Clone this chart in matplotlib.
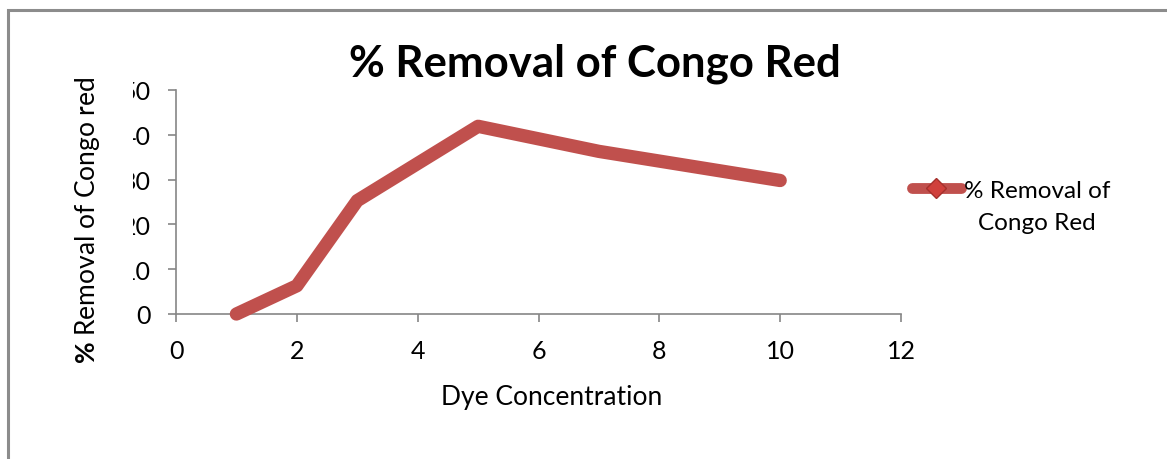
import matplotlib
matplotlib.use("Agg")
import matplotlib.pyplot as plt
from matplotlib.lines import Line2D
from matplotlib.patches import Rectangle

plt.rcParams['font.family'] = ['Lato', 'DejaVu Sans']
plt.rcParams['mathtext.fontset'] = 'custom'
plt.rcParams['mathtext.rm'] = 'Lato'
plt.rcParams['mathtext.bf'] = 'Lato:bold'

# Dye concentration vs % removal of Congo red
dye_concentration = [1, 2, 3, 4, 5, 7, 10]
removal_pct = [0.0, 6.3, 25.3, 33.6, 41.9, 36.3, 29.8]
x_ticks = [0, 2, 4, 6, 8, 10, 12]
y_ticks = [0, 10, 20, 30, 40, 50]

W, H = 1167, 460
fig = plt.figure(figsize=(W / 100, H / 100), dpi=100)
fig.patch.set_facecolor('white')

# outer chart frame (left and top edges visible)
frame = Rectangle((8 / W, -0.1), 1.2, (H - 11) / H + 0.1, transform=fig.transFigure,
                  fill=False, edgecolor='#8c8c8c', linewidth=2.2, zorder=0)
fig.patches.append(frame)

ax = fig.add_axes([176 / W, 1 - 315 / H, (901 - 176) / W, (315 - 91) / H])
line_color = '#C0504D'
ax.plot(dye_concentration, removal_pct, color=line_color, linewidth=9.6,
        solid_capstyle='round', solid_joinstyle='round', zorder=3, clip_on=False)

ax.set_xlim(0, 12)
ax.set_ylim(0, 50)
ax.set_xticks(x_ticks)
ax.set_yticks(y_ticks)
ax.tick_params(axis='both', direction='out', length=6, width=1.2, color='#868686',
               labelsize=18, labelcolor='black')
ax.tick_params(axis='x', pad=12)
ax.tick_params(axis='y', pad=12)
for s in ['top', 'right']:
    ax.spines[s].set_visible(False)
for s in ['left', 'bottom']:
    ax.spines[s].set_color('#868686')
    ax.spines[s].set_linewidth(1.2)

fig.text(552 / W, 1 - 398 / H, 'Dye Concentration', fontsize=19, ha='center', va='center')

# white panel behind the y-axis title, overlapping the tick labels
fig.patches.append(Rectangle((66 / W, 1 - 372 / H), (133 - 66) / W, (372 - 70) / H,
                             transform=fig.transFigure, facecolor='white',
                             edgecolor='none', zorder=5))
fig.text(88 / W, 1 - 220 / H, r'$\mathbf{\%}$ Removal of Congo red', rotation=90,
         fontsize=19, ha='center', va='center', zorder=6)

fig.text(595 / W, 1 - 64 / H, '% Removal of Congo Red', fontsize=31.5, fontweight='bold',
         ha='center', va='center')

handle = Line2D([], [], color=line_color, linewidth=7.8, solid_capstyle='round',
                marker='D', markersize=10, markerfacecolor='#D0403C',
                markeredgecolor='#A5302C')
fig.legend([handle], ['% Removal of'], loc='center left',
           bbox_to_anchor=(912 / W, 1 - 191 / H), frameon=False, fontsize=17.5,
           handlelength=2.0, handletextpad=0.15, borderpad=0, borderaxespad=0)
fig.text(978 / W, 1 - 224 / H, 'Congo Red', fontsize=17.5, ha='left', va='center')

fig.savefig('out.png', dpi=100, facecolor='white')
